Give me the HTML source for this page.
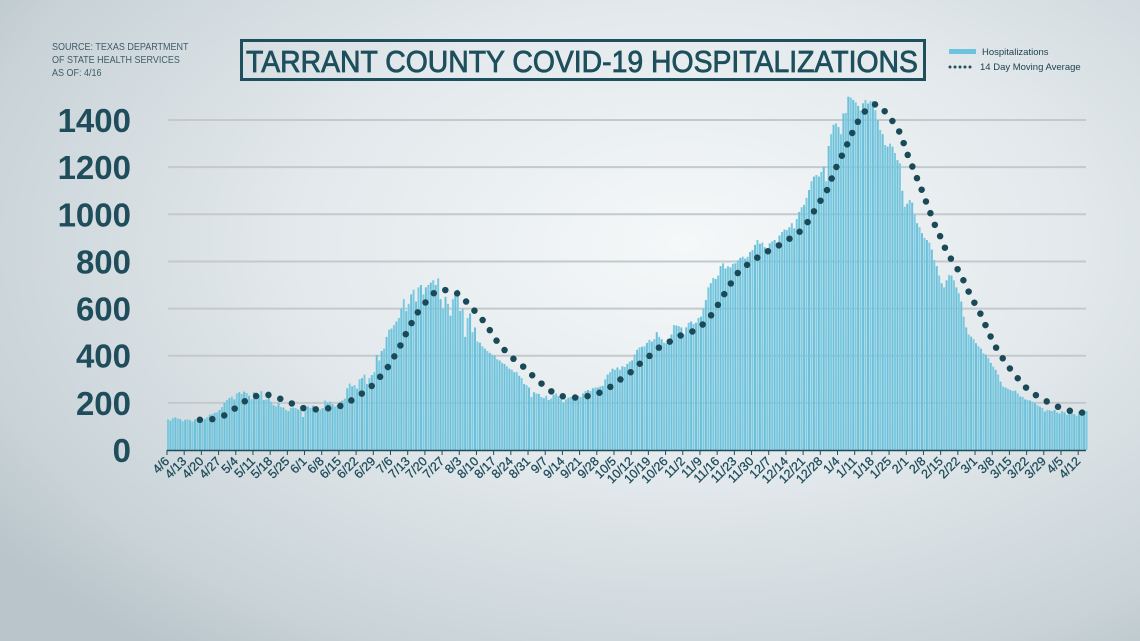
<!DOCTYPE html>
<html><head><meta charset="utf-8"><style>
html,body{margin:0;padding:0}
body{width:1140px;height:641px;overflow:hidden;background:radial-gradient(ellipse 75% 80% at 60% 38%,#f5f8f9 0%,#e3e9ec 45%,#c9d3d8 85%,#b9c5cb 100%);font-family:"Liberation Sans",sans-serif;position:relative}
</style></head><body>
<div style="position:absolute;left:52px;top:41px;font-size:10px;line-height:13px;color:#3f5c68;transform:scaleX(0.9);transform-origin:0 0">SOURCE: TEXAS DEPARTMENT<br>OF STATE HEALTH SERVICES<br>AS OF: 4/16</div>
<div style="position:absolute;left:240px;top:39px;width:680px;height:36px;border:3px solid #1d4f5c;overflow:hidden">
<div style="position:absolute;left:3px;top:2px;width:810px;transform:scaleX(0.915);transform-origin:0 0;font-size:31px;font-weight:normal;color:#1d4f5c;white-space:nowrap;-webkit-text-stroke:0.8px #1d4f5c">TARRANT COUNTY COVID-19 HOSPITALIZATIONS</div></div>
<svg width="1140" height="641" style="position:absolute;left:0;top:0">
<g>
<rect x="949" y="49" width="27" height="5" fill="#6ec3dc"/>
<text x="982" y="55" font-size="9.5" fill="#1d3f4a">Hospitalizations</text>
<line x1="950" y1="67" x2="975" y2="67" stroke="#1d4f5c" stroke-width="3" stroke-linecap="round" stroke-dasharray="0 5"/>
<text x="980" y="70" font-size="9.5" fill="#1d3f4a">14 Day Moving Average</text>
</g>
<g id="grid"></g><g id="bars"></g><g id="ma"></g><g id="axes"></g>
</svg>
<script>
const startDate=[2020,3,6];
const values=[
130,125,135,138,133,131,122,
128,130,126,120,130,127,118,
125,132,140,150,152,158,160,
170,182,200,212,220,226,215,
240,245,238,248,242,230,215,
245,240,232,250,212,214,222,
205,190,185,200,182,180,170,
165,178,180,178,172,170,140,
172,185,178,188,160,165,172,
178,210,200,205,195,185,190,
205,210,218,262,282,270,275,
260,300,305,320,280,305,318,
330,403,380,420,430,480,510,
515,530,545,560,600,640,590,
620,660,680,630,690,700,660,
690,700,710,720,700,728,640,
600,650,620,570,640,660,680,
590,600,480,560,580,500,520,
460,455,440,430,420,412,405,
400,385,380,370,365,355,345,
340,330,330,315,305,280,275,
265,225,245,240,238,225,220,
230,212,218,235,240,228,215,
200,215,222,225,228,232,230,
225,240,250,255,250,262,265,
265,270,272,300,320,330,345,
340,350,340,355,352,365,375,
380,405,425,435,438,440,455,
467,460,470,500,480,470,455,
453,470,490,530,528,525,520,
490,520,540,545,535,540,560,
566,600,636,690,708,730,725,
740,780,792,770,780,775,790,
792,805,815,820,812,820,840,
848,870,891,875,880,860,855,
877,885,891,880,910,925,935,
933,945,962,940,980,1010,1030,
1040,1070,1103,1140,1160,1167,1160,
1180,1202,1140,1290,1340,1380,1386,
1370,1340,1428,1430,1499,1495,1485,
1475,1460,1440,1471,1485,1470,1480,
1480,1442,1400,1358,1340,1294,1287,
1300,1287,1260,1230,1216,1100,1032,
1045,1061,1050,1000,962,945,920,
900,891,880,850,806,780,740,
707,690,720,742,740,720,690,
665,630,566,520,490,481,470,
453,440,430,410,405,390,370,
354,340,320,290,269,265,260,
255,250,252,240,227,225,215,
212,210,205,200,190,184,178,
163,170,168,165,170,160,155,
165,160,149,156,158,152,145,
163,155,160,165];
const yTicks=[0,200,400,600,800,1000,1200,1400];
const maWindow=14;
const NS="http://www.w3.org/2000/svg";
const X0=167,DX=2.456,Y0=450,PY=0.2357;
function xs(i){return X0+i*DX}
function ys(v){return Y0-v*PY}
function mk(t,a,p){const e=document.createElementNS(NS,t);for(const k in a)e.setAttribute(k,a[k]);p.appendChild(e);return e}
const grid=document.getElementById('grid'),bars=document.getElementById('bars'),ma=document.getElementById('ma'),axes=document.getElementById('axes');
yTicks.forEach(v=>{
 if(v>0){const l=mk('line',{x1:168,x2:1086,y1:ys(v),y2:ys(v),stroke:'#c3c9cd','stroke-width':2},grid);
 
 }
 const t=mk('text',{x:131,y:ys(v)+12,'text-anchor':'end','font-size':33,'font-weight':'bold',fill:'#1f4d5b'},axes);
 t.textContent=v;
 
 
});
values.forEach((v,i)=>{
 const r=mk('rect',{x:xs(i),y:ys(v),width:2,height:v*PY,fill:(i%2?'#6cc0da':'#7ccae0')},bars);
 
 
});
let d='';
for(let i=maWindow-1;i<values.length;i++){let s=0;for(let j=i-maWindow+1;j<=i;j++)s+=values[j];const m=s/maWindow;d+=(d?'L':'M')+(xs(i)+1).toFixed(1)+','+ys(m).toFixed(1);}
const p=mk('path',{d:d,fill:'none',stroke:'#1a4a57','stroke-width':6.5,'stroke-linecap':'round','stroke-dasharray':'0 12.5'},ma);


const ax=mk('line',{x1:167,x2:1086,y1:Y0+0.5,y2:Y0+0.5,stroke:'#1f4d5b','stroke-width':1.5},axes);


const sd=new Date(startDate[0],startDate[1],startDate[2]);
for(let i=0;i<values.length;i+=7){
 const x=xs(i);
 const tk=mk('line',{x1:x,x2:x,y1:Y0,y2:Y0+5,stroke:'#1f4d5b','stroke-width':1},axes);
 
 
 const dt=new Date(sd.getTime()+i*86400000);
 const t=mk('text',{x:x+3,y:Y0+12,'text-anchor':'end','font-size':12.5,fill:'#1f4d5b',stroke:'#1f4d5b','stroke-width':0.3,transform:'rotate(-45 '+(x+3)+' '+(Y0+12)+')'},axes);
 t.textContent=(dt.getMonth()+1)+'/'+dt.getDate();
 
 
}
</script>
</body></html>
